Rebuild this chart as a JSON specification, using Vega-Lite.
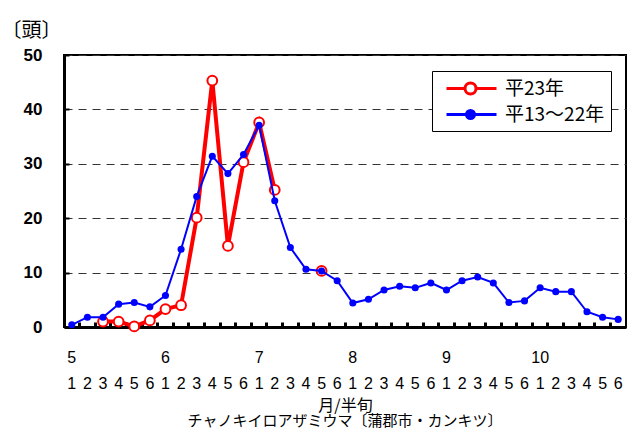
{
  "$schema": "https://vega.github.io/schema/vega-lite/v6.json",
  "width": 562,
  "height": 272,
  "autosize": "none",
  "padding": {"left": 64, "top": 55, "right": 1, "bottom": 103},
  "background": "white",
  "title": {
    "text": "チャノキイロアザミウマ〔蒲郡市・カンキツ〕",
    "orient": "bottom",
    "anchor": "middle",
    "frame": "group",
    "offset": 1,
    "font": "Noto Sans CJK JP",
    "fontSize": 15,
    "fontWeight": "normal",
    "color": "black"
  },
  "config": {
    "view": {"stroke": "black", "strokeWidth": 2},
    "font": "Liberation Sans"
  },
  "data": {
    "values": [
      {"t": "5-1", "series": "平13～22年", "seg": "b0", "value": 0.4},
      {"t": "5-2", "series": "平13～22年", "seg": "b0", "value": 1.8},
      {"t": "5-3", "series": "平13～22年", "seg": "b0", "value": 1.8},
      {"t": "5-4", "series": "平13～22年", "seg": "b0", "value": 4.2},
      {"t": "5-5", "series": "平13～22年", "seg": "b0", "value": 4.5},
      {"t": "5-6", "series": "平13～22年", "seg": "b0", "value": 3.7},
      {"t": "6-1", "series": "平13～22年", "seg": "b0", "value": 5.8},
      {"t": "6-2", "series": "平13～22年", "seg": "b0", "value": 14.3},
      {"t": "6-3", "series": "平13～22年", "seg": "b0", "value": 24.0},
      {"t": "6-4", "series": "平13～22年", "seg": "b0", "value": 31.4},
      {"t": "6-5", "series": "平13～22年", "seg": "b0", "value": 28.2},
      {"t": "6-6", "series": "平13～22年", "seg": "b0", "value": 31.7},
      {"t": "7-1", "series": "平13～22年", "seg": "b0", "value": 37.1},
      {"t": "7-2", "series": "平13～22年", "seg": "b0", "value": 23.2},
      {"t": "7-3", "series": "平13～22年", "seg": "b0", "value": 14.6},
      {"t": "7-4", "series": "平13～22年", "seg": "b0", "value": 10.6},
      {"t": "7-5", "series": "平13～22年", "seg": "b0", "value": 10.3},
      {"t": "7-6", "series": "平13～22年", "seg": "b0", "value": 8.5},
      {"t": "8-1", "series": "平13～22年", "seg": "b0", "value": 4.4},
      {"t": "8-2", "series": "平13～22年", "seg": "b0", "value": 5.1},
      {"t": "8-3", "series": "平13～22年", "seg": "b0", "value": 6.8},
      {"t": "8-4", "series": "平13～22年", "seg": "b0", "value": 7.5},
      {"t": "8-5", "series": "平13～22年", "seg": "b0", "value": 7.2},
      {"t": "8-6", "series": "平13～22年", "seg": "b0", "value": 8.1},
      {"t": "9-1", "series": "平13～22年", "seg": "b0", "value": 6.8},
      {"t": "9-2", "series": "平13～22年", "seg": "b0", "value": 8.5},
      {"t": "9-3", "series": "平13～22年", "seg": "b0", "value": 9.2},
      {"t": "9-4", "series": "平13～22年", "seg": "b0", "value": 8.1},
      {"t": "9-5", "series": "平13～22年", "seg": "b0", "value": 4.5},
      {"t": "9-6", "series": "平13～22年", "seg": "b0", "value": 4.8},
      {"t": "10-1", "series": "平13～22年", "seg": "b0", "value": 7.2},
      {"t": "10-2", "series": "平13～22年", "seg": "b0", "value": 6.5},
      {"t": "10-3", "series": "平13～22年", "seg": "b0", "value": 6.5},
      {"t": "10-4", "series": "平13～22年", "seg": "b0", "value": 2.8},
      {"t": "10-5", "series": "平13～22年", "seg": "b0", "value": 1.8},
      {"t": "10-6", "series": "平13～22年", "seg": "b0", "value": 1.4},
      {"t": "5-3", "series": "平23年", "seg": "a", "value": 1.0},
      {"t": "5-4", "series": "平23年", "seg": "a", "value": 1.0},
      {"t": "5-5", "series": "平23年", "seg": "a", "value": 0.1},
      {"t": "5-6", "series": "平23年", "seg": "a", "value": 1.2},
      {"t": "6-1", "series": "平23年", "seg": "a", "value": 3.3},
      {"t": "6-2", "series": "平23年", "seg": "a", "value": 4.0},
      {"t": "6-3", "series": "平23年", "seg": "a", "value": 20.1},
      {"t": "6-4", "series": "平23年", "seg": "a", "value": 45.3},
      {"t": "6-5", "series": "平23年", "seg": "a", "value": 14.9},
      {"t": "6-6", "series": "平23年", "seg": "a", "value": 30.3},
      {"t": "7-1", "series": "平23年", "seg": "a", "value": 37.6},
      {"t": "7-2", "series": "平23年", "seg": "a", "value": 25.2},
      {"t": "7-5", "series": "平23年", "seg": "b", "value": 10.3}
    ]
  },
  "encoding": {
    "x": {
      "field": "t",
      "type": "ordinal",
      "scale": {
        "type": "band",
        "paddingInner": 0,
        "paddingOuter": 0,
        "domain": ["5-1","5-2","5-3","5-4","5-5","5-6","6-1","6-2","6-3","6-4","6-5","6-6","7-1","7-2","7-3","7-4","7-5","7-6","8-1","8-2","8-3","8-4","8-5","8-6","9-1","9-2","9-3","9-4","9-5","9-6","10-1","10-2","10-3","10-4","10-5","10-6"]
      },
      "axis": {
        "bandPosition": 0,
        "labelOffset": 0,
        "tickSize": -5,
        "tickWidth": 3,
        "tickColor": "black",
        "domainColor": "black",
        "domainWidth": 3,
        "labelAngle": 0,
        "labelFontSize": 16,
        "labelColor": "black",
        "labelLineHeight": 26,
        "labelPadding": 27,
        "labelOverlap": false,
        "labelBound": false,
        "labelExpr": "slice(datum.value, -1) == '1' ? [slice(datum.value, 0, -2), slice(datum.value, -1)] : [' ', slice(datum.value, -1)]",
        "grid": false,
        "title": "月/半旬",
        "titleFont": "Noto Sans CJK JP",
        "titleFontSize": 16,
        "titleFontWeight": "normal",
        "titleColor": "black",
        "titleBaseline": "middle",
        "titleY": 78
      }
    },
    "y": {
      "field": "value",
      "type": "quantitative",
      "scale": {"domain": [0, 50], "nice": false},
      "axis": {
        "values": [0, 10, 20, 30, 40, 50],
        "tickSize": -5,
        "tickWidth": 2,
        "tickColor": "black",
        "domainColor": "black",
        "domainWidth": 3,
        "labelFontSize": 17,
        "labelFontWeight": "bold",
        "labelColor": "black",
        "labelPadding": 27,
        "grid": true,
        "gridColor": "#333333",
        "gridDash": [8, 6],
        "gridWidth": 1,
        "title": "〔頭〕",
        "titleAngle": 0,
        "titleX": -33,
        "titleY": -25,
        "titleAlign": "center",
        "titleBaseline": "middle",
        "titleFont": "Noto Sans CJK JP",
        "titleFontSize": 20,
        "titleFontWeight": "normal",
        "titleColor": "black"
      }
    }
  },
  "layer": [
    {
      "transform": [{"filter": "datum.series === '平23年'"}],
      "mark": {"type": "line", "strokeWidth": 4},
      "encoding": {
        "detail": {"field": "seg", "type": "nominal"},
        "color": {
          "field": "series",
          "type": "nominal",
          "scale": {"domain": ["平23年", "平13～22年"], "range": ["#FF0000", "#0000FF"]},
          "legend": {
            "title": null,
            "orient": "none",
            "legendX": 368,
            "legendY": 16,
            "fillColor": "white",
            "strokeColor": "black",
            "padding": 6,
            "symbolSize": 400,
            "symbolStrokeWidth": 3,
            "labelFontSize": 19,
            "labelFont": "Noto Sans CJK JP",
            "labelColor": "black",
            "labelOffset": 44,
            "rowPadding": 3,
            "cornerRadius": 0,
            "encode": {
              "symbols": {
                "update": {
                  "shape": {"signal": "datum.value === '平23年' ? 'M-0.3,0H1.55M2.65,0H4.7M2.65,0A0.55,0.55 0 1,1 1.55,0A0.55,0.55 0 1,1 2.65,0' : 'M-0.3,0H4.7M2.5,0A0.4,0.4 0 1,1 1.7,0A0.4,0.4 0 1,1 2.5,0'"},
                  "fill": {"signal": "datum.value === '平23年' ? 'white' : '#0000FF'"}
                }
              }
            }
          }
        }
      }
    },
    {
      "transform": [{"filter": "datum.series === '平23年'"}],
      "mark": {"type": "point", "shape": "circle", "filled": true, "fill": "white", "stroke": "#FF0000", "strokeWidth": 2, "size": 95, "opacity": 1}
    },
    {
      "transform": [{"filter": "datum.series === '平13～22年'"}],
      "mark": {"type": "line", "strokeWidth": 2},
      "encoding": {
        "color": {"field": "series", "type": "nominal"}
      }
    },
    {
      "transform": [{"filter": "datum.series === '平13～22年'"}],
      "mark": {"type": "circle", "size": 50, "color": "#0000FF", "opacity": 1}
    }
  ]
}
